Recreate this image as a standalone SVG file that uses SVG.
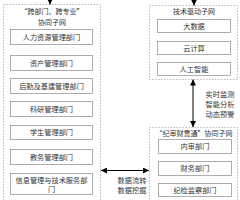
<svg xmlns="http://www.w3.org/2000/svg" width="240" height="200" viewBox="0 0 240 200">
<style>
.outer{fill:none;stroke:#aaa;stroke-width:0.8;stroke-dasharray:1.5 1.5}
.box{fill:#fff;stroke:#999;stroke-width:0.8}
.t{font-family:"Noto Sans CJK SC","Noto Sans",sans-serif;font-size:7.2px;fill:#333;text-anchor:middle}
.ti{font-family:"Noto Sans CJK SC","Noto Sans",sans-serif;font-size:7px;fill:#333;text-anchor:middle}
.ln{stroke:#000;stroke-width:1;fill:none}
</style>
<defs>
<marker id="ah" viewBox="0 0 10 10" refX="10" refY="5" markerWidth="6" markerHeight="6" orient="auto-start-reverse" markerUnits="userSpaceOnUse">
<path d="M0,0 L10,5 L0,10 z" fill="#000"/>
</marker>
</defs>
<g id="left-net">
<rect class="outer" x="3.5" y="4.5" width="97" height="205"/>
<text class="ti" x="52" y="14">“跨部门、跨专业”</text>
<text class="ti" x="52" y="25">协同子网</text>
</g>
<g id="hr"><rect class="box" x="10.5" y="29.5" width="82" height="15"/><text class="t" x="51.5" y="39.5">人力资源管理部门</text></g>
<g id="asset"><rect class="box" x="10.5" y="55.5" width="82" height="15"/><text class="t" x="51.5" y="65.5">资产管理部门</text></g>
<g id="logistics"><rect class="box" x="10.5" y="78.5" width="82" height="15"/><text class="t" x="51.5" y="88.5">后勤及基建管理部门</text></g>
<g id="research"><rect class="box" x="10.5" y="101.5" width="82" height="15"/><text class="t" x="51.5" y="111.5">科研管理部门</text></g>
<g id="student"><rect class="box" x="10.5" y="125.5" width="82" height="14"/><text class="t" x="51.5" y="135">学生管理部门</text></g>
<g id="teaching"><rect class="box" x="10.5" y="149.5" width="82" height="15"/><text class="t" x="51.5" y="159.5">教务管理部门</text></g>
<g id="info"><rect class="box" x="10.5" y="173.5" width="82" height="21"/><text class="t" x="51.5" y="182.5">信息管理与技术服务部</text><text class="t" x="51.5" y="192">门</text></g>
<g id="tech-net">
<rect class="outer" x="149.5" y="5.5" width="88" height="74"/>
<text class="ti" x="194" y="14">技术驱动子网</text>
</g>
<g id="bigdata"><rect class="box" x="157.5" y="19.5" width="73" height="13"/><text class="t" x="194" y="28.5">大数据</text></g>
<g id="cloud"><rect class="box" x="157.5" y="41.5" width="73" height="13"/><text class="t" x="194" y="50.5">云计算</text></g>
<g id="ai"><rect class="box" x="157.5" y="62.5" width="73" height="13"/><text class="t" x="194" y="71.5">人工智能</text></g>
<g id="audit-net">
<rect class="outer" x="149.5" y="127.5" width="88" height="80"/>
<text class="ti" x="194" y="135.5">“纪审财贯通”协同子网</text>
</g>
<g id="audit"><rect class="box" x="158.5" y="139.5" width="73" height="14"/><text class="t" x="195" y="149">内审部门</text></g>
<g id="finance"><rect class="box" x="158.5" y="161.5" width="73" height="14"/><text class="t" x="195" y="171">财务部门</text></g>
<g id="discipline"><rect class="box" x="158.5" y="183.5" width="73" height="13"/><text class="t" x="195" y="192.5">纪检监察部门</text></g>
<g id="connectors">
<line class="ln" x1="50" y1="-10" x2="50" y2="4.5" marker-end="url(#ah)"/>
<line class="ln" x1="194" y1="-10" x2="194" y2="5.5" marker-end="url(#ah)"/>
<line class="ln" x1="193" y1="79.5" x2="193" y2="127" marker-start="url(#ah)" marker-end="url(#ah)"/>
<line class="ln" x1="101" y1="170.5" x2="149" y2="170.5" marker-start="url(#ah)" marker-end="url(#ah)"/>
<text class="t" x="220" y="97">实时监测</text>
<text class="t" x="220" y="107">智能分析</text>
<text class="t" x="220" y="117">动态预警</text>
<text class="t" x="132" y="183">数据流转</text>
<text class="t" x="132" y="193">数据挖掘</text>
</g>
</svg>
